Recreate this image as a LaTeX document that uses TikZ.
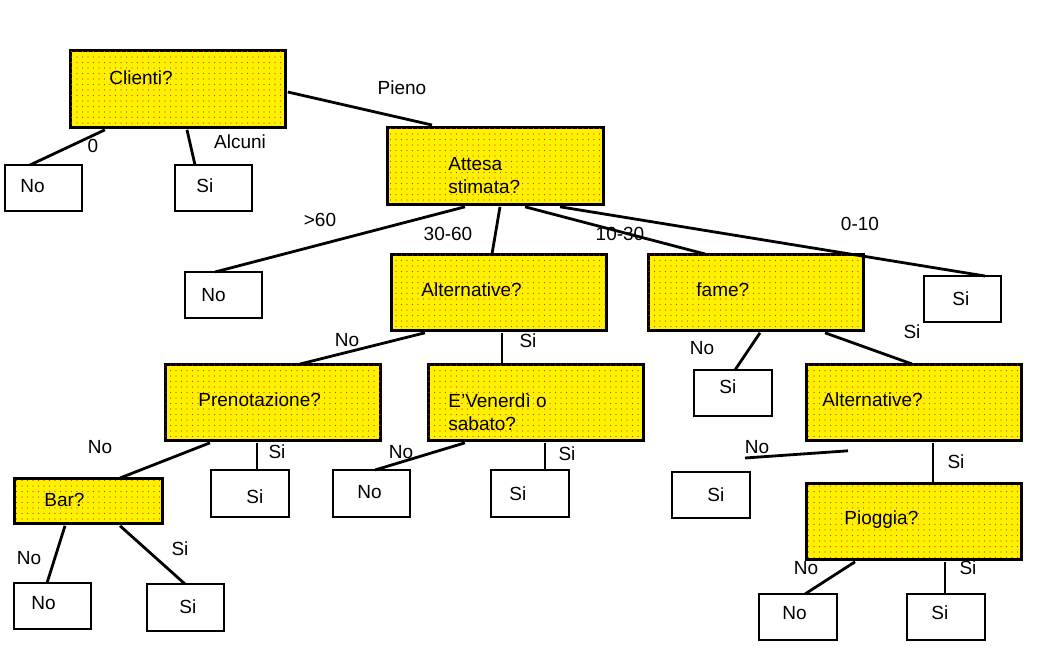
\documentclass[tikz,border=0pt]{standalone}
\usepackage{fontspec}
\setmainfont{Liberation Sans}
\usetikzlibrary{patterns.meta}
\begin{document}
\begin{tikzpicture}[x=1pt,y=-1pt,line width=2.8pt,
  q/.style={draw,line width=3pt,fill=yellow,postaction={pattern={Dots[distance=5.5pt,radius=0.7pt]},pattern color=red!85!yellow}},
  l/.style={draw,line width=2.4pt,fill=white},
  t/.style={font=\fontsize{19}{23}\selectfont,anchor=west,inner sep=0,align=left},
  lab/.style={font=\fontsize{19}{23}\selectfont,inner sep=0}]
\useasboundingbox (0,0) rectangle (1038,651);
\newcommand{\bx}[6]{\path[#6] (#2,#3) rectangle (#4,#5); \node[inner sep=0,minimum width={#4-#2},minimum height={#5-#3},anchor=north west] (#1) at (#2,#3) {};}
\bx{cl}{70}{50}{285}{127}{q}
\bx{n1}{5}{165}{82}{211}{l}
\bx{s1}{175}{165}{252}{211}{l}
\bx{at}{387}{127}{603}{204}{q}
\bx{n2}{185}{272}{262}{318}{l}
\bx{a1}{391}{254}{606}{330}{q}
\bx{fa}{648}{254}{863}{330}{q}
\bx{s2}{924}{276}{1001}{322}{l}
\bx{pr}{165}{364}{380}{440}{q}
\bx{ve}{428}{364}{643}{440}{q}
\bx{s3}{694}{370}{772}{416}{l}
\bx{a2}{806}{364}{1021}{440}{q}
\bx{ba}{14}{478}{162}{523}{q}
\bx{s4}{211}{470}{289}{517}{l}
\bx{n3}{333}{470}{410}{517}{l}
\bx{s5}{491}{470}{569}{517}{l}
\bx{s6}{672}{472}{750}{518}{l}
\bx{pi}{806}{483}{1021}{559}{q}
\bx{n4}{14}{583}{91}{629}{l}
\bx{s7}{147}{584}{224}{631}{l}
\bx{n5}{759}{594}{837}{640}{l}
\bx{s8}{907}{594}{985}{640}{l}
% connectors
\draw ([xshift=35]cl.south west) -- ([xshift=25]n1.north west);
\draw ([xshift=117]cl.south west) -- ([xshift=20]s1.north west);
\draw ([yshift=-42]cl.north east) -- ([xshift=45,yshift=2]at.north west);
\draw ([xshift=78]at.south west) -- ([xshift=30]n2.north west);
\draw ([xshift=113]at.south west) -- ([xshift=101]a1.north west);
\draw ([xshift=138]at.south west) -- ([xshift=57]fa.north west);
\draw ([xshift=173]at.south west) -- ([xshift=61]s2.north west);
\draw ([xshift=34]a1.south west) -- ([xshift=135]pr.north west);
\draw ([xshift=111]a1.south west) -- ([xshift=74]ve.north west);
\draw ([xshift=112]fa.south west) -- ([xshift=41]s3.north west);
\draw ([xshift=177]fa.south west) -- ([xshift=106]a2.north west);
\draw ([xshift=45]pr.south west) -- ([xshift=106]ba.north west);
\draw ([xshift=92]pr.south west) -- ([xshift=46]s4.north west);
\draw ([xshift=37]ve.south west) -- ([xshift=42]n3.north west);
\draw ([xshift=117]ve.south west) -- ([xshift=54]s5.north west);
\draw ([xshift=42,yshift=-8]a2.south west) -- ([xshift=73,yshift=14]s6.north west);
\draw ([xshift=127]a2.south west) -- ([xshift=127]pi.north west);
\draw ([xshift=51]ba.south west) -- ([xshift=33]n4.north west);
\draw ([xshift=106]ba.south west) -- ([xshift=38]s7.north west);
\draw ([xshift=49]pi.south west) -- ([xshift=46]n5.north west);
\draw ([xshift=139]pi.south west) -- ([xshift=38]s8.north west);
% texts
\node[t] at (108,78) {Clienti?};
\node[t] at (19,186) {No};
\node[t] at (195,186) {Si};
\node[t] at (447,176) {Attesa\\stimata?};
\node[t] at (200,295) {No};
\node[t] at (420,290) {Alternative?};
\node[t] at (695,290) {fame?};
\node[t] at (951,299) {Si};
\node[t] at (197,400) {Prenotazione?};
\node[t] at (447,412) {E'Venerdì o\\sabato?};
\node[t] at (718,387) {Si};
\node[t] at (821,400) {Alternative?};
\node[t] at (43,500) {Bar?};
\node[t] at (245,497) {Si};
\node[t] at (356,492) {No};
\node[t] at (508,494) {Si};
\node[t] at (706,495) {Si};
\node[t] at (843,520) {Pioggia?};
\node[t] at (30,603) {No};
\node[t] at (178,607) {Si};
\node[t] at (781,613) {No};
\node[t] at (930,613) {Si};
% edge labels
\node[lab] at (402,88) {Pieno};
\node[lab] at (93,146) {0};
\node[lab] at (240,142) {Alcuni};
\node[lab] at (320,220) {>60};
\node[lab] at (448,234) {30-60};
\node[lab] at (620,234) {10-30};
\node[lab] at (860,224) {0-10};
\node[lab] at (347,340) {No};
\node[lab] at (528,341) {Si};
\node[lab] at (702,348) {No};
\node[lab] at (912,332) {Si};
\node[lab] at (100,447) {No};
\node[lab] at (277,452) {Si};
\node[lab] at (401,452) {No};
\node[lab] at (567,454) {Si};
\node[lab] at (757,447) {No};
\node[lab] at (956,462) {Si};
\node[lab] at (29,558) {No};
\node[lab] at (180,549) {Si};
\node[lab] at (806,568) {No};
\node[lab] at (968,568) {Si};
\end{tikzpicture}
\end{document}
